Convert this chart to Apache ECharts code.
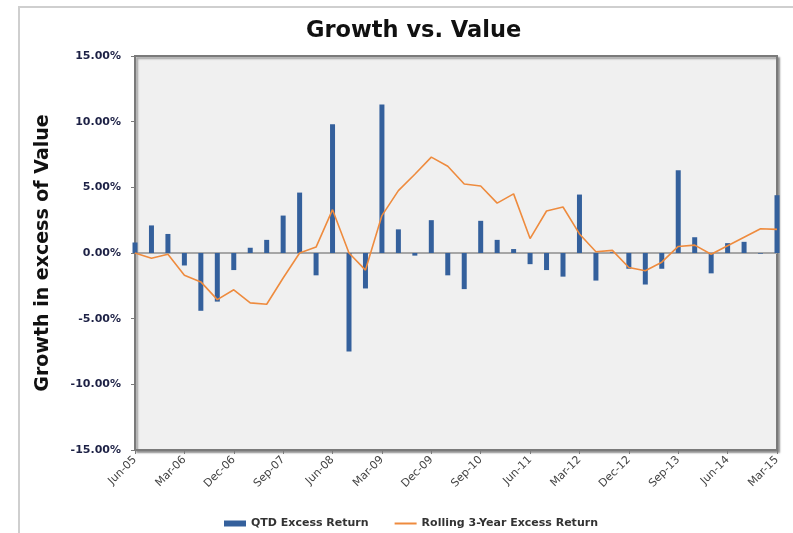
<!DOCTYPE html>
<html>
<head>
<meta charset="utf-8">
<script src="https://cdn.jsdelivr.net/npm/echarts@6/dist/echarts.min.js"></script>
<style>
html, body { margin: 0; padding: 0; background: #fff; }
#main { width: 793px; height: 533px; }
</style>
</head>
<body>
<div id="main"></div>
<script>
// quarters Jun-05 .. Mar-15
var quarters = [
	'Jun-05', 'Sep-05', 'Dec-05', 'Mar-06', 'Jun-06', 'Sep-06', 'Dec-06', 'Mar-07',
	'Jun-07', 'Sep-07', 'Dec-07', 'Mar-08', 'Jun-08', 'Sep-08', 'Dec-08', 'Mar-09',
	'Jun-09', 'Sep-09', 'Dec-09', 'Mar-10', 'Jun-10', 'Sep-10', 'Dec-10', 'Mar-11',
	'Jun-11', 'Sep-11', 'Dec-11', 'Mar-12', 'Jun-12', 'Sep-12', 'Dec-12', 'Mar-13',
	'Jun-13', 'Sep-13', 'Dec-13', 'Mar-14', 'Jun-14', 'Sep-14', 'Dec-14', 'Mar-15'
];
var qtdExcess = [
	0.8, 2.1, 1.45, -0.95, -4.4, -3.7, -1.3, 0.4,
	1.0, 2.85, 4.6, -1.7, 9.8, -7.5, -2.7, 11.3,
	1.8, -0.2, 2.5, -1.7, -2.75, 2.45, 1.0, 0.3,
	-0.85, -1.3, -1.8, 4.45, -2.1, 0.05, -1.2, -2.4,
	-1.2, 6.3, 1.2, -1.55, 0.75, 0.85, -0.05, 4.4
];
var rolling3Yr = [
	0.0, -0.4, -0.1, -1.7, -2.2, -3.55, -2.8, -3.8,
	-3.9, -1.9, 0.0, 0.45, 3.3, 0.0, -1.3, 2.85,
	4.75, 6.0, 7.3, 6.6, 5.25, 5.1, 3.8, 4.5,
	1.1, 3.2, 3.5, 1.45, 0.1, 0.2, -1.1, -1.35,
	-0.7, 0.5, 0.6, -0.1, 0.55, 1.2, 1.85, 1.8
];
var seriesNames = ['QTD Excess Return', 'Rolling 3-Year Excess Return'];

var font = 'DejaVu Sans';
var myChart = echarts.init(document.getElementById('main'));

var option = {
	animation : false,
	backgroundColor : '#fff',
	title : {
		text : 'Growth vs. Value',
		left : 301,
		top : 15,
		textStyle : { fontFamily : font, fontSize : 22.5, fontWeight : 'bold', color : '#111' }
	},
	graphic : [ {
		type : 'rect',
		shape : { x : 19, y : 7, width : 820, height : 600 },
		style : { fill : 'none', stroke : '#cfcfcf', lineWidth : 2 },
		silent : true
	} ],
	legend : {
		top : 513,
		left : 219,
		itemWidth : 22,
		itemHeight : 6,
		itemGap : 26,
		textStyle : { fontFamily : font, fontSize : 11, fontWeight : 'bold', color : '#333' },
		data : [
			{ name : seriesNames[0], icon : 'rect' },
			// thin line icon for the rolling series
			{ name : seriesNames[1], icon : 'path://M0,0 L22,0 L22,2 L0,2 Z' }
		]
	},
	grid : {
		left : 135,
		top : 56,
		right : 16,
		bottom : 83,
		show : true,
		backgroundColor : '#f0f0f0',
		borderColor : '#7a7a7a',
		borderWidth : 2,
		shadowColor : 'rgba(0,0,0,0.35)',
		shadowBlur : 2,
		shadowOffsetX : 2,
		shadowOffsetY : 2
	},
	xAxis : {
		type : 'category',
		data : quarters,
		boundaryGap : false,
		axisLine : { onZero : false, lineStyle : { color : '#7a7a7a', width : 2 } },
		axisTick : { show : true, interval : 2, length : 4, lineStyle : { color : '#7a7a7a' } },
		axisLabel : {
			interval : 2,
			rotate : 45,
			margin : 8,
			fontFamily : font,
			fontSize : 11,
			color : '#444'
		},
		splitLine : { show : false }
	},
	yAxis : {
		type : 'value',
		min : -15,
		max : 15,
		interval : 5,
		name : 'Growth in excess of Value',
		nameLocation : 'middle',
		nameGap : 82,
		nameTextStyle : { fontFamily : font, fontSize : 19, fontWeight : 'bold', color : '#111' },
		axisLine : { show : true, lineStyle : { color : '#7a7a7a', width : 2 } },
		axisTick : { show : true, length : 4, lineStyle : { color : '#7a7a7a' } },
		axisLabel : {
			margin : 14,
			fontFamily : font,
			fontSize : 11,
			fontWeight : 'bold',
			color : '#1d2145',
			formatter : function(v) { return v.toFixed(2) + '%'; }
		},
		splitLine : {
			show : true,
			lineStyle : {
				// only the zero line is visible
				color : [ 'rgba(0,0,0,0)', 'rgba(0,0,0,0)', 'rgba(0,0,0,0)', '#a6a6a6',
						'rgba(0,0,0,0)', 'rgba(0,0,0,0)', 'rgba(0,0,0,0)' ],
				width : 2
			}
		}
	},
	series : [ {
		name : seriesNames[0],
		type : 'bar',
		barWidth : 5,
		itemStyle : { color : '#34609c' },
		data : qtdExcess
	}, {
		name : seriesNames[1],
		type : 'line',
		symbol : 'none',
		lineStyle : { color : '#ee8b3e', width : 1.6 },
		itemStyle : { color : '#ee8b3e' },
		data : rolling3Yr
	} ]
};
myChart.setOption(option, true);
</script>
</body>
</html>
